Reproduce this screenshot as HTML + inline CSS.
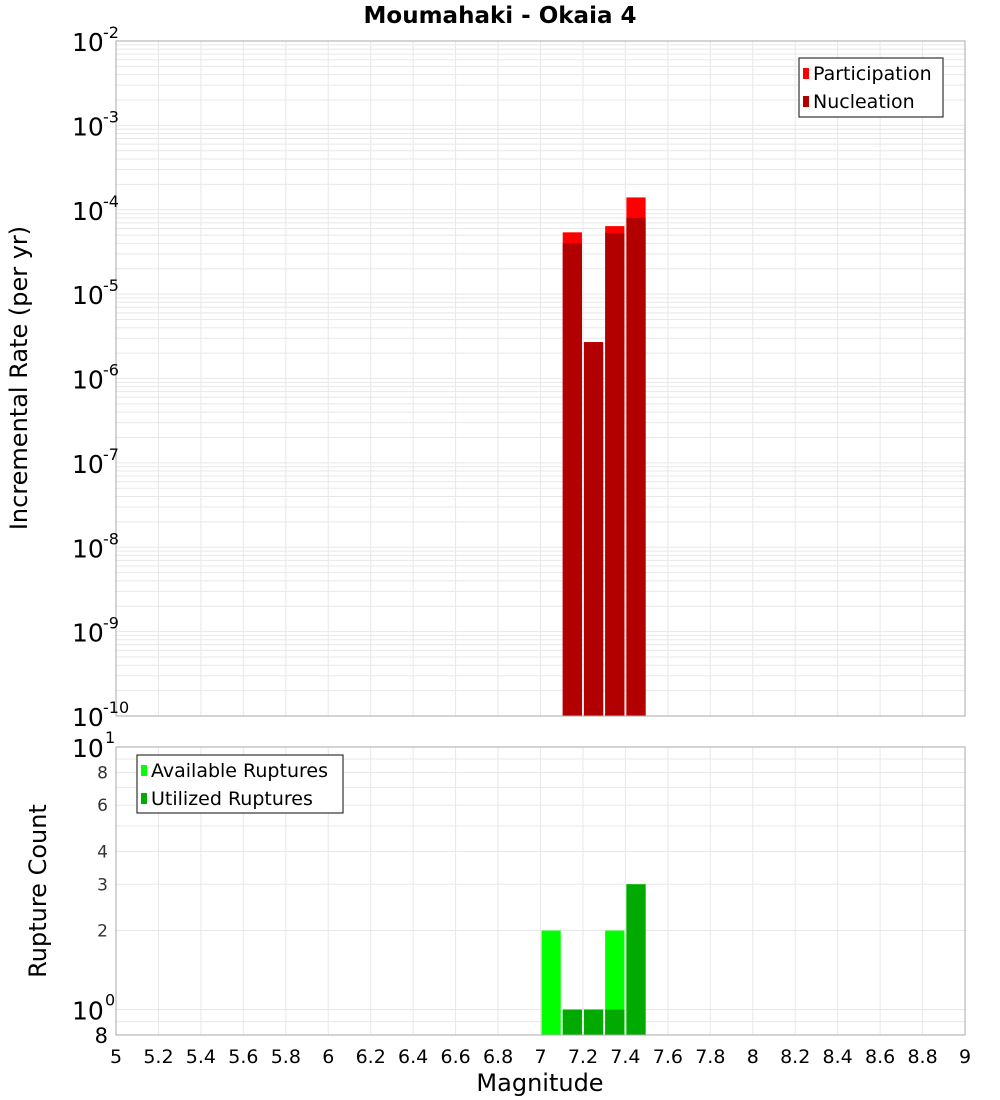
<!DOCTYPE html>
<html><head><meta charset="utf-8"><style>
body{margin:0;background:#fff}
svg{display:block;font-family:"DejaVu Sans","Liberation Sans",sans-serif}
</style></head><body>
<svg id="c" width="1000" height="1100" xmlns="http://www.w3.org/2000/svg">
<text x="500" y="23" text-anchor="middle" font-size="23" font-weight="bold">Moumahaki - Okaia 4</text>
<g id="g"></g>
</svg>
<script>
const mags=[7.05,7.15,7.25,7.35,7.45];
const participation=[0,5.4e-5,2.7e-6,6.4e-5,1.4e-4];
const nucleation=[0,4.0e-5,2.7e-6,5.3e-5,8.0e-5];
const available=[2,1,1,2,3];
const utilized=[0,1,1,1,3];
const xTicks=[5,5.2,5.4,5.6,5.8,6,6.2,6.4,6.6,6.8,7,7.2,7.4,7.6,7.8,8,8.2,8.4,8.6,8.8,9];
const topExps=[-2,-3,-4,-5,-6,-7,-8,-9,-10];
const botTicks=[8,6,4,3,2];

const NS='http://www.w3.org/2000/svg';
const g=document.getElementById('g');
function el(t,a,p){const e=document.createElementNS(NS,t);for(const k in a)e.setAttribute(k,a[k]);(p||g).appendChild(e);return e;}
const X0=116,X1=965;
const xs=m=>X0+(m-5)/4*(X1-X0);
const T0=41,T1=716;
const yT=v=>T0+(-2-Math.log10(v))/8*(T1-T0);
const B0=747,B1=1035,bl=Math.log10(0.8);
const yB=v=>B0+(1-Math.log10(v))/(1-bl)*(B1-B0);

for(let e=-10;e<-2;e++)for(let k=1;k<10;k++){const y=yT(k*Math.pow(10,e));
const l=el('line',{x1:X0,x2:X1,y1:y,y2:y,stroke:'#e8e8e8','stroke-width':1});

}
[0.8,0.9,1,2,3,4,5,6,7,8,9,10].forEach(v=>{const y=yB(v);
const l=el('line',{x1:X0,x2:X1,y1:y,y2:y,stroke:'#e8e8e8','stroke-width':1});

});
xTicks.forEach(m=>{const x=xs(m);
const a=el('line',{x1:x,x2:x,y1:T0,y2:T1,stroke:'#e8e8e8'});


const b=el('line',{x1:x,x2:x,y1:B0,y2:B1,stroke:'#e8e8e8'});


const t=el('text',{x:x,y:1063,'text-anchor':'middle','font-size':19});
t.textContent=String(m);

});

mags.forEach((m,i)=>{const x=xs(m-0.05)+1,w=xs(m+0.05)-xs(m-0.05)-2;
if(participation[i]>0){const r=el('rect',{x:x,y:yT(participation[i]),width:w,height:T1-yT(participation[i]),fill:'#ff0000'});

}
if(nucleation[i]>0){const r=el('rect',{x:x,y:yT(nucleation[i]),width:w,height:T1-yT(nucleation[i]),fill:'#b20000'});

}
if(available[i]>0){const r=el('rect',{x:x,y:yB(available[i]),width:w,height:B1-yB(available[i]),fill:'#00ff00'});

}
if(utilized[i]>0){const r=el('rect',{x:x,y:yB(utilized[i]),width:w,height:B1-yB(utilized[i]),fill:'#00aa00'});

}
});

const f1=el('rect',{x:X0,y:T0,width:X1-X0,height:T1-T0,fill:'none',stroke:'#aaa'});


const f2=el('rect',{x:X0,y:B0,width:X1-X0,height:B1-B0,fill:'none',stroke:'#aaa'});



topExps.forEach(e=>{const y=yT(Math.pow(10,e));
const t=el('text',{x:72,y:y+10,'font-size':25});
t.textContent='10';


const s=el('text',{x:103,y:y-3,'font-size':16});
s.textContent=String(e);

});
[[10,'1'],[1,'0']].forEach(([v,ex])=>{const y=yB(v);
const t=el('text',{x:72,y:y+10,'font-size':25});
t.textContent='10';


const s=el('text',{x:105,y:y-4,'font-size':16});
s.textContent=ex;

});
botTicks.forEach(v=>{const t=el('text',{x:108,y:yB(v)+6,'text-anchor':'end','font-size':17,fill:'#333'});
t.textContent=String(v);

});
const t8=el('text',{x:108,y:1043,'text-anchor':'end','font-size':21});
t8.textContent='8';



const yt=el('text',{x:0,y:0,'font-size':24,'text-anchor':'middle',transform:'translate(27,378) rotate(-90)'});
yt.textContent='Incremental Rate (per yr)';


const yb=el('text',{x:0,y:0,'font-size':24,'text-anchor':'middle',transform:'translate(46,891) rotate(-90)'});
yb.textContent='Rupture Count';


const xt=el('text',{x:540,y:1091,'font-size':24,'text-anchor':'middle'});
xt.textContent='Magnitude';



function legend(x,y,w,h,items,name){const lg=el('g',{});


el('rect',{x:x,y:y,width:w,height:h,fill:'#fff',stroke:'#333','stroke-width':1.2},lg);
items.forEach(([lab,col],i)=>{const cy=y+15+i*28;
el('rect',{x:x+4,y:cy-5,width:6,height:11,fill:col},lg);
const t=el('text',{x:x+14,y:cy+7,'font-size':19},lg);
t.textContent=lab;

});}
legend(799,58,144,59,[['Participation','#ff0000'],['Nucleation','#b20000']],'top-legend');
legend(137,755,206,58,[['Available Ruptures','#00ff00'],['Utilized Ruptures','#00aa00']],'bottom-legend');
</script>
</body></html>
